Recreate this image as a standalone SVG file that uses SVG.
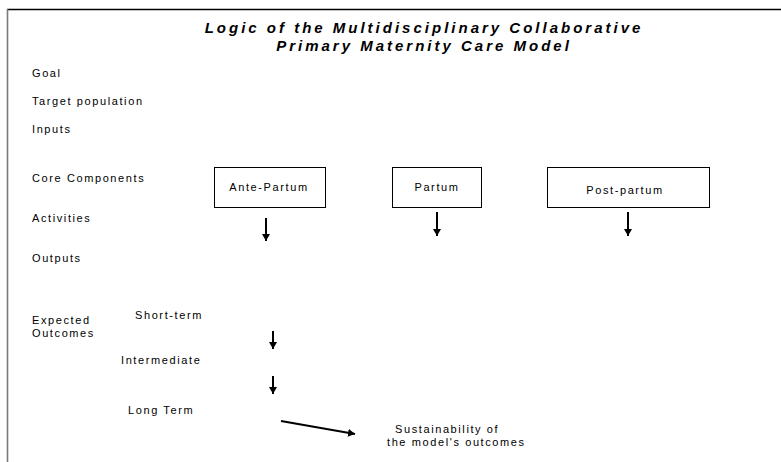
<svg xmlns="http://www.w3.org/2000/svg" width="781" height="462" viewBox="0 0 781 462">
<style>
.t{font-family:"Liberation Sans",Arial,sans-serif;font-size:11px;letter-spacing:1.6px;fill:#000}
.title{font-family:"Liberation Sans",Arial,sans-serif;font-size:15px;font-weight:bold;font-style:italic;letter-spacing:3px;fill:#000}
.box{fill:#fff;stroke:#000;stroke-width:1}
.conn{stroke:#000;stroke-width:2;fill:none}
</style>
<defs>
<marker id="ah" markerUnits="userSpaceOnUse" markerWidth="7" markerHeight="8" refX="7" refY="4" orient="auto">
<path d="M0,0 L7,4 L0,8 z" fill="#000"/>
</marker>
</defs>
<rect width="781" height="462" fill="#fff"/>
<g id="frame">
<line x1="7" y1="9.5" x2="781" y2="9.5" stroke="#000" stroke-width="1.5"/>
<line x1="7.5" y1="9" x2="7.5" y2="462" stroke="#7a7a7a" stroke-width="1.6"/>
</g>
<g id="title">
<text class="title" x="424" y="33" text-anchor="middle">Logic of the Multidisciplinary Collaborative</text>
<text class="title" x="424" y="51" text-anchor="middle">Primary Maternity Care Model</text>
</g>
<g id="row-labels">
<text class="t" x="32" y="77">Goal</text>
<text class="t" x="32" y="105">Target population</text>
<text class="t" x="32" y="133">Inputs</text>
<text class="t" x="32" y="182">Core Components</text>
<text class="t" x="32" y="222">Activities</text>
<text class="t" x="32" y="262">Outputs</text>
<text class="t" x="32" y="324">Expected</text>
<text class="t" x="32" y="337">Outcomes</text>
<text class="t" x="135" y="319">Short-term</text>
<text class="t" x="121" y="364">Intermediate</text>
<text class="t" x="128" y="414">Long Term</text>
</g>
<g id="ante-partum">
<rect class="box" x="214.5" y="167.5" width="111" height="40"/>
<text class="t" x="269" y="191" text-anchor="middle">Ante-Partum</text>
</g>
<g id="partum">
<rect class="box" x="392.5" y="167.5" width="89" height="40"/>
<text class="t" x="437" y="191" text-anchor="middle">Partum</text>
</g>
<g id="post-partum">
<rect class="box" x="547.5" y="167.5" width="162" height="40"/>
<text class="t" x="625" y="194" text-anchor="middle">Post-partum</text>
</g>
<g id="sustainability">
<text class="t" x="395" y="433">Sustainability of</text>
<text class="t" x="387" y="446">the model's outcomes</text>
</g>
<g id="connectors">
<line class="conn" x1="266" y1="218" x2="266" y2="241" marker-end="url(#ah)"/>
<line class="conn" x1="437" y1="212" x2="437" y2="236" marker-end="url(#ah)"/>
<line class="conn" x1="628" y1="212" x2="628" y2="236" marker-end="url(#ah)"/>
<line class="conn" x1="273" y1="331" x2="273" y2="349" marker-end="url(#ah)"/>
<line class="conn" x1="273" y1="376" x2="273" y2="394" marker-end="url(#ah)"/>
<line class="conn" x1="281" y1="421" x2="355" y2="434" marker-end="url(#ah)"/>
</g>
</svg>
